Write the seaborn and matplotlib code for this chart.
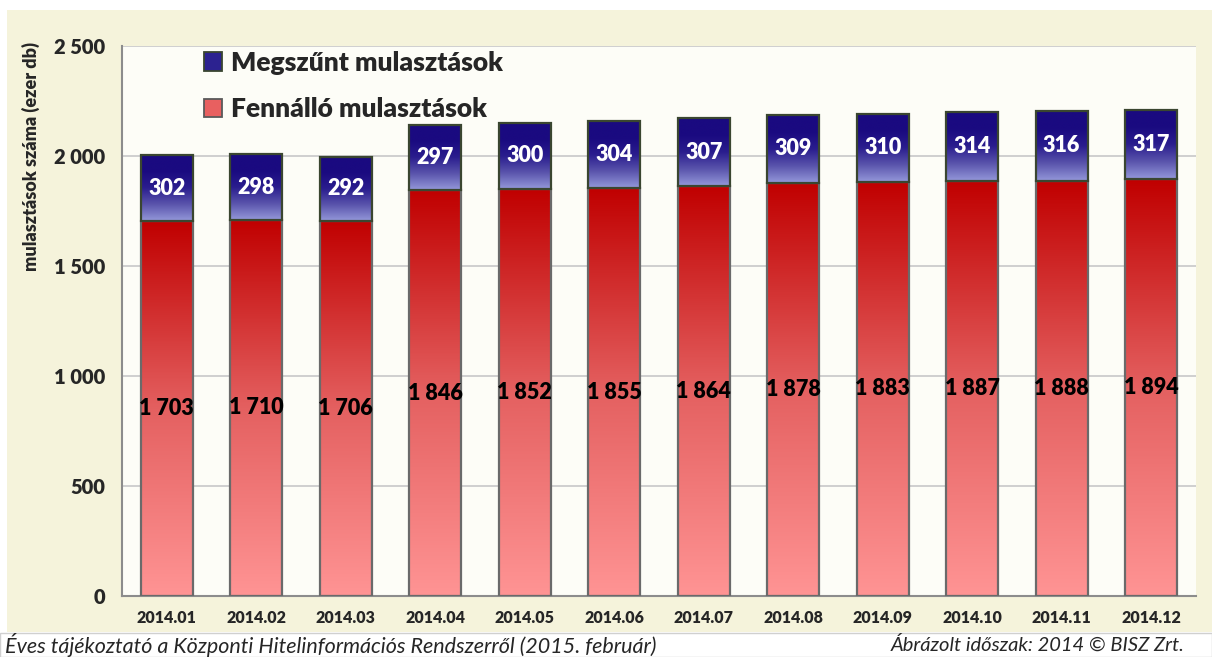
import numpy as np
import pandas as pd
import seaborn as sns
import matplotlib.pyplot as plt
from matplotlib.colors import LinearSegmentedColormap
from matplotlib.patches import Rectangle, Patch

# adatok (ezer db)
months = ['2014.01', '2014.02', '2014.03', '2014.04', '2014.05', '2014.06',
          '2014.07', '2014.08', '2014.09', '2014.10', '2014.11', '2014.12']
fennallo = [1703, 1710, 1706, 1846, 1852, 1855, 1864, 1878, 1883, 1887, 1888, 1894]
megszunt = [302, 298, 292, 297, 300, 304, 307, 309, 310, 314, 316, 317]
yticks = [0, 500, 1000, 1500, 2000, 2500]

df = pd.DataFrame({'honap': months, 'fennallo': fennallo, 'megszunt': megszunt})
df['osszes'] = df['fennallo'] + df['megszunt']

sns.set_style('white')
plt.rcParams['font.family'] = ['Lato', 'DejaVu Sans']
FW = 'heavy'

fig = plt.figure(figsize=(12.12, 6.57), dpi=100)
fig.patch.set_facecolor('white')
# bezs keret hatter
fig.patches.append(Rectangle((7 / 1212, 25 / 657), 1 - 7 / 1212, 622 / 657,
                             transform=fig.transFigure, facecolor='#F5F3DB',
                             edgecolor='none', zorder=-10))
fig.patches.append(Rectangle((0, 0.5 / 657), 1, 24 / 657, transform=fig.transFigure,
                             facecolor='white', edgecolor='#D0D0D0', lw=1, zorder=-10))

ax = fig.add_axes([0.1007, 0.0928, 0.886, 0.837])
ax.set_facecolor('#FDFDF7')

sns.barplot(data=df, x='honap', y='osszes', color='#1A0A80', width=0.58,
            errorbar=None, ax=ax)
sns.barplot(data=df, x='honap', y='fennallo', color='#C00000', width=0.58,
            errorbar=None, ax=ax)

blue_cmap = LinearSegmentedColormap.from_list('kek', ['#9498DA', '#5A54AC', '#2A1D8E', '#1A0A80', '#1A0A80'])
red_cmap = LinearSegmentedColormap.from_list('piros', ['#FF9494', '#E46060', '#C00000'])
grad = np.linspace(0, 1, 256).reshape(-1, 1)

# felso (megszunt) szegmens: a teljes oszlopot levagjuk a fennallo reszre
for bar, f, m in zip(ax.containers[0], fennallo, megszunt):
    bar.set_y(f)
    bar.set_height(m)
    x0, w = bar.get_x(), bar.get_width()
    bar.set_facecolor('none')
    bar.set_edgecolor('#3A4630')
    bar.set_linewidth(1.6)
    bar.set_zorder(4)
    im = ax.imshow(grad, cmap=blue_cmap, origin='lower', aspect='auto',
                   extent=[x0, x0 + w, f, f + m], zorder=3.5)
    im.set_clip_path(bar)
    ax.text(x0 + w / 2, f + m / 2, str(m), ha='center', va='center',
            color='white', fontsize=15.5, fontweight=FW, zorder=5)

for bar, f in zip(ax.containers[1], fennallo):
    x0, w = bar.get_x(), bar.get_width()
    bar.set_facecolor('none')
    bar.set_edgecolor('#6A6A6A')
    bar.set_linewidth(1.6)
    bar.set_zorder(3)
    im = ax.imshow(grad, cmap=red_cmap, origin='lower', aspect='auto',
                   extent=[x0, x0 + w, 0, f], zorder=2.5)
    im.set_clip_path(bar)
    ax.text(x0 + w / 2, f / 2, f'{f:,}'.replace(',', ' '), ha='center', va='center',
            color='black', fontsize=15.5, fontweight=FW, zorder=5)

ax.set_xlim(-0.5, len(months) - 0.5)
ax.set_ylim(0, 2500)
ax.set_yticks(yticks)
ax.set_yticklabels([f'{v:,}'.replace(',', ' ') for v in yticks],
                   fontsize=14.5, fontweight=FW)
ax.set_xticks(range(len(months)))
ax.set_xticklabels(months, fontsize=11.5, fontweight=FW)
ax.set_xticks(np.arange(-0.5, len(months)), minor=True)
ax.tick_params(axis='x', which='major', length=0, pad=10)
ax.tick_params(axis='x', which='minor', length=6, color='#8C8C8C', width=1.3)
ax.tick_params(axis='y', length=6, color='#8C8C8C', width=1.3, pad=6)

ax.yaxis.grid(True, color='#CCCCCC', lw=1.3)
ax.set_axisbelow(True)
for s in ['top', 'right']:
    ax.spines[s].set_visible(False)
for s in ['left', 'bottom']:
    ax.spines[s].set_color('#8C8C8C')
    ax.spines[s].set_linewidth(1.5)

ax.set_xlabel('')
ax.set_ylabel('mulasztások száma (ezer db)', fontsize=13, fontweight=FW)
ax.yaxis.label.set_verticalalignment('center')
ax.yaxis.set_label_coords(-0.085, 0.80)

handles = [Patch(facecolor='#2C2290', edgecolor='#3A4630', lw=1.3),
           Patch(facecolor='#E86060', edgecolor='#5A5A5A', lw=1.3)]
ax.legend(handles, ['Megszűnt mulasztások', 'Fennálló mulasztások'],
          loc='upper left', bbox_to_anchor=(0.054, 1.035), frameon=False,
          prop={'size': 19, 'weight': FW}, handlelength=0.7, handleheight=0.7,
          handletextpad=0.35, labelspacing=0.85)

fig.text(5 / 1212, 12 / 657, 'Éves tájékoztató a Központi Hitelinformációs Rendszerről (2015. február)',
         fontsize=15.5, style='italic', va='center', ha='left')
fig.text(1185 / 1212, 12 / 657, 'Ábrázolt időszak: 2014 © BISZ Zrt.',
         fontsize=14.5, style='italic', va='center', ha='right')

fig.savefig('out.png', dpi=100)
